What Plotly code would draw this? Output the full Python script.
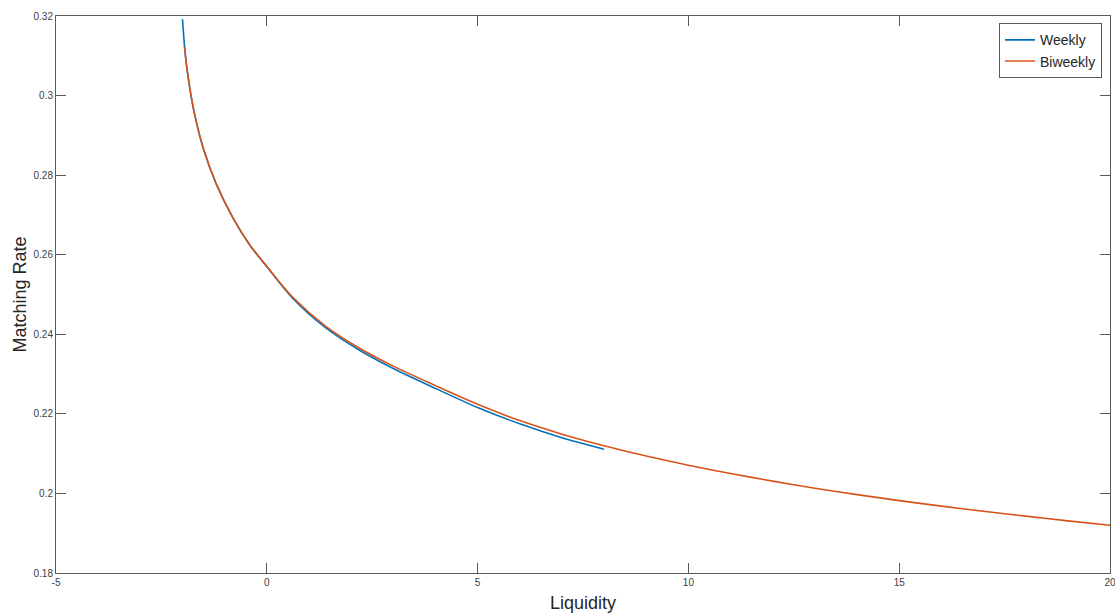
import plotly.graph_objects as go

weekly_x = [-2.0, -1.95, -1.9, -1.8, -1.7, -1.5, -1.2, -0.8, -0.4, 0.0, 0.6,
            1.4, 2.2, 3.0, 4.0, 5.0, 6.0, 7.0, 8.0]
weekly_y = [0.3192, 0.3122, 0.3072, 0.3002, 0.2947, 0.2865, 0.2778, 0.2692, 0.2624, 0.2570,
            0.2492, 0.2416, 0.2360, 0.2314, 0.2264, 0.2216, 0.2175, 0.2140, 0.2111]

biweekly_x = [-1.95, -1.9, -1.8, -1.7, -1.5, -1.2, -0.8, -0.4, 0.0, 0.6, 1.4, 2.2, 3.0,
              4.0, 5.0, 6.0, 7.0, 8.0, 9.0, 10.0, 11.0, 12.0, 13.0, 14.0, 15.0, 16.0,
              17.0, 18.0, 19.0, 20.0]
biweekly_y = [0.3122, 0.3072, 0.3002, 0.2947, 0.2865, 0.2778, 0.2692, 0.2624, 0.2571, 0.2495,
              0.2420, 0.2365, 0.2320, 0.2271, 0.2224, 0.2183, 0.2149, 0.2120, 0.2094, 0.2071,
              0.2050, 0.2031, 0.2013, 0.1997, 0.1982, 0.1968, 0.1955, 0.1943, 0.1931, 0.1920]

x_ticks = [-5, 0, 5, 10, 15, 20]
x_ticktext = ["-5", "0", "5", "10", "15", "20"]
y_ticks = [0.18, 0.2, 0.22, 0.24, 0.26, 0.28, 0.3, 0.32]
y_ticktext = ["0.18", "0.2", "0.22", "0.24", "0.26", "0.28", "0.3", "0.32"]

fig = go.Figure()
fig.add_trace(go.Scatter(x=weekly_x, y=weekly_y, mode="lines", name="Weekly",
                         line=dict(color="#0072BD", width=1.6, shape="spline", smoothing=0.8)))
fig.add_trace(go.Scatter(x=biweekly_x, y=biweekly_y, mode="lines", name="Biweekly",
                         line=dict(color="#D95319", width=1.6, shape="spline", smoothing=0.8)))

axis_common = dict(showgrid=False, zeroline=False, showline=True, linecolor="#5a5a5a",
                   linewidth=1, mirror="ticks", ticks="inside", ticklen=10, tickwidth=1,
                   tickcolor="#5a5a5a", ticklabeloverflow="allow", automargin=False,
                   tickfont=dict(family="Liberation Sans, Arial", size=10, color="#404040"))

fig.update_layout(
    width=1115, height=616,
    margin=dict(l=56, r=5, t=16, b=43),
    paper_bgcolor="white", plot_bgcolor="white",
    font=dict(family="Liberation Sans, Arial", color="#262626"),
    xaxis=dict(range=[-5, 20], tickvals=x_ticks, ticktext=x_ticktext,
               title=dict(text="Liquidity", font=dict(size=18, color="#262626"), standoff=9),
               **axis_common),
    yaxis=dict(range=[0.18, 0.32], tickvals=y_ticks, ticktext=y_ticktext,
               title=dict(text="Matching Rate", font=dict(size=18, color="#262626"), standoff=2),
               **axis_common),
    legend=dict(x=0.9924, y=0.987, xanchor="right", yanchor="top",
                bgcolor="white", bordercolor="#5a5a5a", borderwidth=1,
                font=dict(size=14, color="#262626"), itemwidth=30,
                tracegroupgap=0),
    showlegend=True,
)

fig.write_html("out.html")
